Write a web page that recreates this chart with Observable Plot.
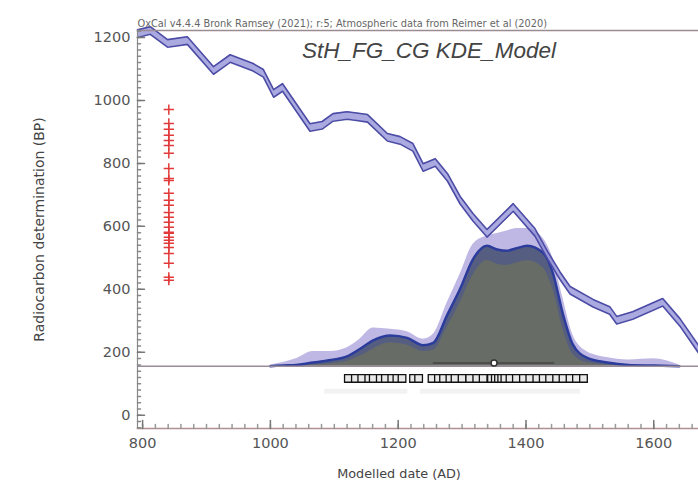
<!DOCTYPE html>
<html><head><meta charset="utf-8">
<script src="https://cdn.jsdelivr.net/npm/d3@7"></script>
<script src="https://cdn.jsdelivr.net/npm/@observablehq/plot@0.6"></script>
<style>body{margin:0;background:#fff} #chart svg{display:block}</style>
</head><body><div id="chart"></div>
<script>
// Calibration curve (IntCal-style), date AD vs BP
const calDates = [792, 812, 839, 870, 911, 937, 973, 989, 1005, 1019, 1062, 1081, 1098, 1120, 1135, 1152, 1183, 1203, 1223, 1239, 1258, 1277, 1297, 1317, 1339, 1380, 1414, 1434, 1453, 1469, 1505, 1531, 1542, 1567, 1614, 1641, 1670];
const calBP    = [1212, 1222, 1181, 1190, 1095, 1133, 1105, 1086, 1022, 1041, 914, 921, 946, 952, 948, 943, 883, 873, 851, 787, 803, 756, 683, 629, 578, 660, 581, 508, 444, 397, 356, 333, 302, 317, 359, 295, 210];
const calErr = 12;

// KDE model distribution (relative probability)
const kdeDates = [1000, 1020, 1040, 1067, 1095, 1120, 1140, 1161, 1188, 1214, 1239, 1255, 1277, 1297, 1317, 1339, 1355, 1370, 1385, 1402, 1427, 1442, 1458, 1473, 1495, 1527, 1560, 1600, 1640];
const kdeMean  = [0, 0.005, 0.01, 0.03, 0.05, 0.08, 0.14, 0.21, 0.25, 0.23, 0.17, 0.19, 0.42, 0.63, 0.87, 0.98, 0.95, 0.94, 0.96, 0.98, 0.92, 0.76, 0.42, 0.18, 0.07, 0.03, 0.01, 0.005, 0];
const kdeUpper = [0.01, 0.03, 0.06, 0.12, 0.12, 0.15, 0.22, 0.31, 0.30, 0.28, 0.22, 0.26, 0.52, 0.75, 0.99, 1.06, 1.08, 1.10, 1.12, 1.12, 1.04, 0.88, 0.55, 0.26, 0.12, 0.07, 0.05, 0.06, 0.01];
const kdeLower = [0, 0, 0, 0.01, 0.02, 0.04, 0.08, 0.14, 0.19, 0.17, 0.12, 0.13, 0.32, 0.52, 0.74, 0.86, 0.83, 0.82, 0.84, 0.86, 0.80, 0.63, 0.30, 0.10, 0.03, 0.01, 0, 0, 0];
const kdeBase = 156;
const kdeScale = 390;

// Radiocarbon determinations (BP), shown at a fixed date
const measDate = 841;
const measBP = [971, 927, 908, 889, 873, 857, 832, 784, 752, 746, 705, 683, 667, 644, 629, 613, 597, 581, 578, 565, 556, 546, 533, 514, 483, 438, 429];

// Individual sample modelled dates
const sampleDates = [1122, 1133, 1143, 1154, 1161, 1172, 1180, 1190, 1198, 1206, 1224, 1232, 1253, 1263, 1271, 1281, 1289, 1300, 1312, 1323, 1333, 1346, 1352, 1357, 1362, 1367, 1375, 1385, 1396, 1406, 1417, 1427, 1437, 1448, 1458, 1469, 1479, 1490];
const sampleBP = 117;
const faintRanges = [[1085, 1215], [1235, 1485]];
const faintBP = 76;
const rangeStart = 1255, rangeEnd = 1445, rangeMid = 1350, rangeBP = 166;

const xMajor = [800, 1000, 1200, 1400, 1600];
const xMinor = d3.range(800, 1670, 20);
const yMajor = [0, 200, 400, 600, 800, 1000, 1200];
const yMinor = d3.range(-40, 1221, 20);

const title = "StH_FG_CG KDE_Model";
const header = "OxCal v4.4.4 Bronk Ramsey (2021); r:5; Atmospheric data from Reimer et al (2020)";
const xLabel = "Modelled date (AD)";
const yLabel = "Radiocarbon determination (BP)";

const cal = calDates.map((d, i) => ({date: d, bp: calBP[i]}));
const kde = kdeDates.map((d, i) => ({date: d, m: kdeMean[i], u: kdeUpper[i], l: kdeLower[i]}));
const kY = v => kdeBase + v * kdeScale;

const tickShape = {draw(ctx, l) { ctx.moveTo(0, 0); ctx.lineTo(0, -l); }};

const chart = Plot.plot({
  width: 698, height: 487,
  marginTop: 30, marginBottom: 59, marginLeft: 137, marginRight: 0,
  style: {fontFamily: "DejaVu Sans", background: "#fff", overflow: "visible"},
  x: {domain: [792, 1670]},
  y: {domain: [-42, 1222]},
  marks: [
    // faint row
    Plot.ruleY(faintRanges, {x1: d => d[0], x2: d => d[1], y: faintBP, stroke: "#d4d4d4", strokeWidth: 5, strokeOpacity: 0.3}),
    // KDE distribution
    Plot.areaY(kde, {x: "date", y1: d => kY(d.l), y2: d => kY(d.u), fill: "#b4acdf", fillOpacity: 0.85, curve: "monotone-x"}),
    Plot.areaY(kde, {x: "date", y1: kdeBase, y2: d => kY(d.m), fill: "#686c66", curve: "monotone-x"}),
    Plot.areaY(kde, {x: "date", y1: d => kY(d.l), y2: d => kY(d.m), fill: "#3a4aa8", fillOpacity: 0.4, curve: "monotone-x"}),
    Plot.line(kde, {x: "date", y: d => kY(d.m), stroke: "#2c3c9c", strokeWidth: 2.5, curve: "monotone-x"}),
    // calibration curve band
    Plot.areaY(cal, {x: "date", y1: d => d.bp - calErr, y2: d => d.bp + calErr, fill: "#8e8ed6", fillOpacity: 0.75}),
    Plot.line(cal, {x: "date", y: d => d.bp + calErr, stroke: "#4c4ca6", strokeWidth: 1.6}),
    Plot.line(cal, {x: "date", y: d => d.bp - calErr, stroke: "#4c4ca6", strokeWidth: 1.6}),
    // baseline of distribution
    Plot.ruleY([kdeBase], {stroke: "#9a8c98", strokeWidth: 1.5}),
    // modelled range with median
    Plot.ruleY([rangeBP], {x1: rangeStart, x2: rangeEnd, stroke: "#333", strokeWidth: 1}),
    Plot.dot([rangeMid], {x: d => d, y: rangeBP, r: 3, fill: "#fff", stroke: "#333"}),
    // sample boxes
    Plot.dot(sampleDates, {x: d => d, y: sampleBP, symbol: "square", r: 4.3, fill: "#e8e8e8", stroke: "#111", strokeWidth: 1.3}),
    // radiocarbon determinations
    Plot.dot(measBP, {x: measDate, y: d => d, symbol: "plus", r: 3.4, stroke: "#e23a3a", strokeWidth: 1.5}),
    // frame
    Plot.frame({anchor: "top", stroke: "#9a8c92", strokeWidth: 1.5}),
    Plot.frame({anchor: "left", stroke: "#888", strokeWidth: 1.2}),
    Plot.frame({anchor: "bottom", stroke: "#b09090", strokeWidth: 1.5}),
    // inward ticks
    Plot.vectorY(yMinor, {frameAnchor: "left", rotate: 90, length: 3, anchor: "start", shape: tickShape, stroke: "#888"}),
    Plot.vectorY(yMajor, {frameAnchor: "left", rotate: 90, length: 7, anchor: "start", shape: tickShape, stroke: "#777"}),
    Plot.vectorX(xMinor, {frameAnchor: "bottom", rotate: 0, length: 4, anchor: "start", shape: tickShape, stroke: "#999"}),
    Plot.vectorX(xMajor, {frameAnchor: "bottom", rotate: 0, length: 8, anchor: "start", shape: tickShape, stroke: "#777"}),
    // axes labels
    Plot.axisY(yMajor, {tickSize: 0, tickPadding: 7, fontSize: 14.5, color: "#555", tickFormat: d3.format("d"),
      label: yLabel, labelAnchor: "center", labelOffset: 103, labelArrow: "none"}),
    Plot.axisX(xMajor, {tickSize: 0, tickPadding: 9, fontSize: 14.5, color: "#555", tickFormat: d3.format("d"), label: null}),
    Plot.text([xLabel], {text: d => d, frameAnchor: "bottom", dx: -19, dy: 49, fontSize: 12.8, fill: "#444"}),
    Plot.text([title], {text: d => d, frameAnchor: "top", dx: 11, dy: 12, fontSize: 22.5, fontFamily: "Liberation Sans", fontStyle: "italic", fill: "#444"}),
    Plot.text([header], {text: d => d, frameAnchor: "top-left", textAnchor: "start", lineAnchor: "bottom", dy: -4, fontSize: 9.8, fill: "#666"})
  ]
});
// label font size for the rotated y label
chart.querySelectorAll("g[aria-label='y-axis label'] text").forEach(t => { t.setAttribute("font-size", "14"); t.setAttribute("fill", "#444"); });
document.getElementById("chart").append(chart);
</script>
</body></html>
